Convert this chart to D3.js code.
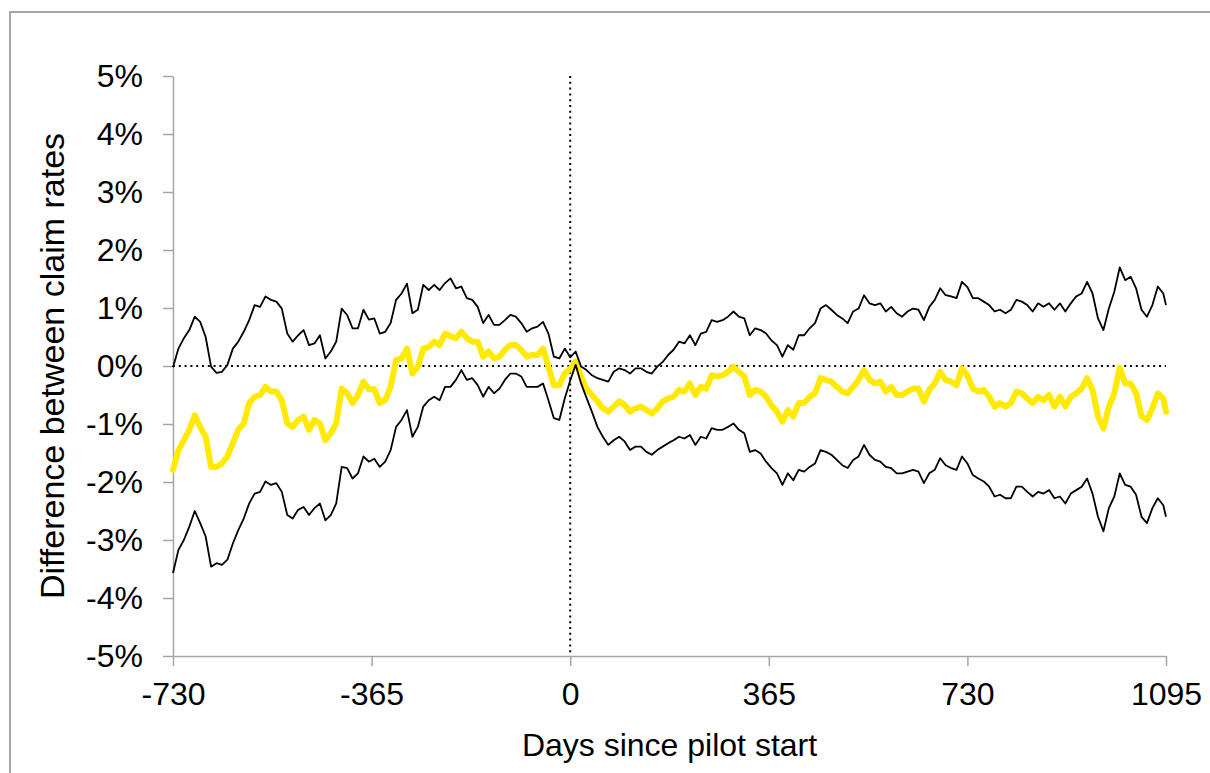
<!DOCTYPE html>
<html>
<head>
<meta charset="utf-8">
<script src="https://cdn.jsdelivr.net/npm/d3@7"></script>
<style>
  html, body { margin: 0; padding: 0; background: #fff; }
  svg { display: block; font-family: "Liberation Sans", Arial, sans-serif; }
</style>
</head>
<body>
<svg id="chart" width="1210" height="773"></svg>
<script>
// Sampling grid: every 10 days from two years before to three years after the pilot start
const days = d3.range(-730, 1095, 10).concat([1095]);

// Estimated difference between claim rates (%)
const estimate = [
  -1.79, -1.45, -1.28, -1.10, -0.85, -1.05, -1.22, -1.74, -1.74, -1.68,
  -1.56, -1.33, -1.10, -0.99, -0.64, -0.53, -0.50, -0.36, -0.44, -0.44,
  -0.59, -0.99, -1.05, -0.93, -0.87, -1.10, -0.93, -0.99, -1.28, -1.16,
  -0.99, -0.39, -0.47, -0.64, -0.50, -0.27, -0.40, -0.40, -0.64, -0.59,
  -0.36, 0.10, 0.13, 0.30, -0.13, -0.01, 0.30, 0.33, 0.42, 0.36,
  0.56, 0.51, 0.48, 0.59, 0.48, 0.42, 0.42, 0.16, 0.25, 0.13,
  0.16, 0.28, 0.36, 0.36, 0.28, 0.16, 0.19, 0.19, 0.30, -0.01,
  -0.33, -0.33, -0.13, -0.05, 0.08, -0.18, -0.39, -0.50, -0.61, -0.73,
  -0.79, -0.70, -0.61, -0.67, -0.79, -0.73, -0.70, -0.76, -0.82, -0.73,
  -0.61, -0.56, -0.53, -0.41, -0.44, -0.30, -0.50, -0.36, -0.39, -0.16,
  -0.18, -0.16, -0.10, -0.01, -0.10, -0.18, -0.50, -0.41, -0.44, -0.53,
  -0.68, -0.79, -0.96, -0.76, -0.87, -0.64, -0.64, -0.53, -0.47, -0.21,
  -0.24, -0.27, -0.36, -0.44, -0.47, -0.36, -0.24, -0.07, -0.24, -0.30,
  -0.27, -0.44, -0.36, -0.50, -0.50, -0.44, -0.39, -0.39, -0.61, -0.41,
  -0.30, -0.10, -0.24, -0.27, -0.33, -0.04, -0.16, -0.39, -0.44, -0.41,
  -0.53, -0.70, -0.64, -0.70, -0.64, -0.44, -0.47, -0.56, -0.64, -0.53,
  -0.59, -0.50, -0.70, -0.53, -0.70, -0.53, -0.47, -0.39, -0.21, -0.41,
  -0.87, -1.08, -0.70, -0.47, -0.03, -0.30, -0.30, -0.47, -0.87, -0.93,
  -0.73, -0.47, -0.56, -0.79
];

// Upper confidence bound (%)
const upperBound = [
  -0.02, 0.30, 0.48, 0.62, 0.85, 0.76, 0.50, -0.01, -0.12, -0.10,
  0.02, 0.30, 0.42, 0.59, 0.79, 1.05, 1.02, 1.20, 1.14, 1.11,
  0.99, 0.56, 0.42, 0.53, 0.62, 0.36, 0.39, 0.53, 0.13, 0.25,
  0.42, 0.99, 0.88, 0.65, 0.65, 0.97, 0.80, 0.82, 0.56, 0.59,
  0.74, 1.14, 1.25, 1.42, 0.91, 0.97, 1.40, 1.31, 1.40, 1.31,
  1.43, 1.51, 1.34, 1.37, 1.17, 1.14, 1.02, 0.74, 0.88, 0.71,
  0.71, 0.79, 0.88, 0.85, 0.74, 0.59, 0.65, 0.68, 0.76, 0.56,
  0.16, 0.13, 0.30, 0.15, 0.25, -0.01, -0.07, -0.16, -0.21, -0.24,
  -0.27, -0.10, -0.04, -0.07, -0.13, -0.04, -0.04, -0.10, -0.13, -0.01,
  0.07, 0.19, 0.28, 0.42, 0.39, 0.53, 0.36, 0.56, 0.59, 0.79,
  0.76, 0.79, 0.85, 0.94, 0.85, 0.82, 0.53, 0.65, 0.62, 0.56,
  0.44, 0.36, 0.16, 0.36, 0.28, 0.53, 0.53, 0.65, 0.74, 0.99,
  1.05, 0.97, 0.88, 0.82, 0.74, 0.94, 0.99, 1.22, 1.08, 1.05,
  1.08, 0.94, 1.02, 0.91, 0.85, 0.94, 0.99, 0.97, 0.79, 1.02,
  1.14, 1.34, 1.22, 1.20, 1.17, 1.45, 1.36, 1.17, 1.17, 1.11,
  1.05, 0.94, 0.97, 0.91, 0.97, 1.14, 1.11, 1.05, 0.94, 1.08,
  1.02, 1.08, 0.97, 1.08, 0.94, 1.08, 1.20, 1.25, 1.45, 1.25,
  0.82, 0.62, 0.99, 1.28, 1.70, 1.48, 1.54, 1.34, 0.97, 0.85,
  1.05, 1.37, 1.25, 1.05
];

// Lower confidence bound (%)
const lowerBound = [
  -3.57, -3.17, -3.00, -2.77, -2.50, -2.71, -2.94, -3.46, -3.40, -3.43,
  -3.34, -3.06, -2.83, -2.63, -2.37, -2.20, -2.17, -1.99, -2.05, -2.02,
  -2.17, -2.57, -2.63, -2.48, -2.43, -2.57, -2.45, -2.37, -2.66, -2.57,
  -2.37, -1.74, -1.76, -1.94, -1.85, -1.56, -1.65, -1.60, -1.74, -1.65,
  -1.45, -1.05, -0.93, -0.76, -1.22, -1.05, -0.70, -0.59, -0.53, -0.59,
  -0.36, -0.36, -0.24, -0.07, -0.24, -0.21, -0.33, -0.53, -0.36, -0.47,
  -0.39, -0.24, -0.13, -0.13, -0.18, -0.36, -0.36, -0.36, -0.30, -0.59,
  -0.90, -0.93, -0.56, -0.25, 0.02, -0.30, -0.55, -0.79, -1.05, -1.22,
  -1.36, -1.28, -1.22, -1.30, -1.45, -1.39, -1.39, -1.48, -1.53, -1.45,
  -1.39, -1.33, -1.28, -1.22, -1.25, -1.19, -1.36, -1.22, -1.25, -1.07,
  -1.10, -1.10, -1.05, -0.99, -1.10, -1.16, -1.48, -1.45, -1.51, -1.65,
  -1.76, -1.85, -2.05, -1.85, -1.97, -1.79, -1.82, -1.74, -1.68, -1.45,
  -1.48, -1.53, -1.62, -1.71, -1.76, -1.62, -1.56, -1.36, -1.53, -1.62,
  -1.65, -1.74, -1.76, -1.85, -1.85, -1.82, -1.79, -1.82, -2.02, -1.85,
  -1.79, -1.59, -1.71, -1.76, -1.79, -1.56, -1.68, -1.88, -1.94, -1.99,
  -2.08, -2.25, -2.22, -2.28, -2.28, -2.08, -2.08, -2.17, -2.25, -2.17,
  -2.20, -2.14, -2.28, -2.25, -2.37, -2.20, -2.14, -2.08, -1.94, -2.20,
  -2.60, -2.85, -2.45, -2.25, -1.85, -2.05, -2.08, -2.22, -2.60, -2.71,
  -2.45, -2.28, -2.40, -2.60
];

const xTicks = [-730, -365, 0, 365, 730, 1095];
const yTicks = [-5, -4, -3, -2, -1, 0, 1, 2, 3, 4, 5];

const svg = d3.select("#chart");
const W = 1210, H = 773;
const plot = { left: 173, right: 1166, top: 76, bottom: 656 };
const axisGrey = "#a6a6a6";

// Outer chart frame
svg.append("rect")
  .attr("x", 10).attr("y", 12)
  .attr("width", W + 10).attr("height", H + 10)
  .attr("fill", "none").attr("stroke", "#a6a6a6").attr("stroke-width", 2);

const x = d3.scaleLinear().domain([-730, 1095]).range([plot.left, plot.right]);
const y = d3.scaleLinear().domain([-5, 5]).range([plot.bottom, plot.top]);

// Reference lines: no difference, and the pilot start
svg.append("line")
  .attr("x1", x(-730)).attr("x2", x(1095))
  .attr("y1", y(0)).attr("y2", y(0))
  .attr("stroke", "#000").attr("stroke-width", 2).attr("stroke-dasharray", "2,3.8");
svg.append("line")
  .attr("x1", x(0)).attr("x2", x(0))
  .attr("y1", y(5)).attr("y2", y(-5))
  .attr("stroke", "#000").attr("stroke-width", 2).attr("stroke-dasharray", "2,3.8");

// Axes
const yAxis = d3.axisLeft(y).tickValues(yTicks).tickFormat(d => d + "%")
  .tickSize(10).tickSizeOuter(0).tickPadding(20);
const xAxis = d3.axisBottom(x).tickValues(xTicks).tickFormat(d3.format("d"))
  .tickSize(10).tickSizeOuter(0).tickPadding(16);

const gy = svg.append("g").attr("transform", `translate(${plot.left},0)`).call(yAxis);
const gx = svg.append("g").attr("transform", `translate(0,${plot.bottom})`).call(xAxis);

[gx, gy].forEach(g => {
  g.select(".domain").attr("stroke", axisGrey).attr("stroke-width", 1.5);
  g.selectAll(".tick line").attr("stroke", axisGrey).attr("stroke-width", 1.5);
  g.selectAll(".tick text")
    .attr("fill", "#000")
    .style("font-family", '"Liberation Sans", Arial, sans-serif')
    .style("font-size", "32px");
});
gx.selectAll(".tick text").text(d => d < 0 ? "-" + Math.abs(d) : d);
gy.selectAll(".tick text").text(d => (d < 0 ? "-" + Math.abs(d) : d) + "%");

// Series lines
const line = vals => d3.line()
  .x((d, i) => x(days[i]))
  .y(d => y(d))(vals);

svg.append("path").attr("d", line(estimate))
  .attr("fill", "none").attr("stroke", "#ffea00").attr("stroke-width", 6)
  .attr("stroke-linejoin", "round").attr("stroke-linecap", "round");
svg.append("path").attr("d", line(upperBound))
  .attr("fill", "none").attr("stroke", "#000").attr("stroke-width", 1.8)
  .attr("stroke-linejoin", "round");
svg.append("path").attr("d", line(lowerBound))
  .attr("fill", "none").attr("stroke", "#000").attr("stroke-width", 1.8)
  .attr("stroke-linejoin", "round");

// Axis titles
svg.append("text")
  .attr("x", (plot.left + plot.right) / 2).attr("y", 756)
  .attr("text-anchor", "middle")
  .style("font-size", "32px")
  .text("Days since pilot start");

svg.append("text")
  .attr("transform", `translate(64,${(plot.top + plot.bottom) / 2}) rotate(-90)`)
  .attr("text-anchor", "middle")
  .style("font-size", "34px")
  .text("Difference between claim rates");
</script>
</body>
</html>
